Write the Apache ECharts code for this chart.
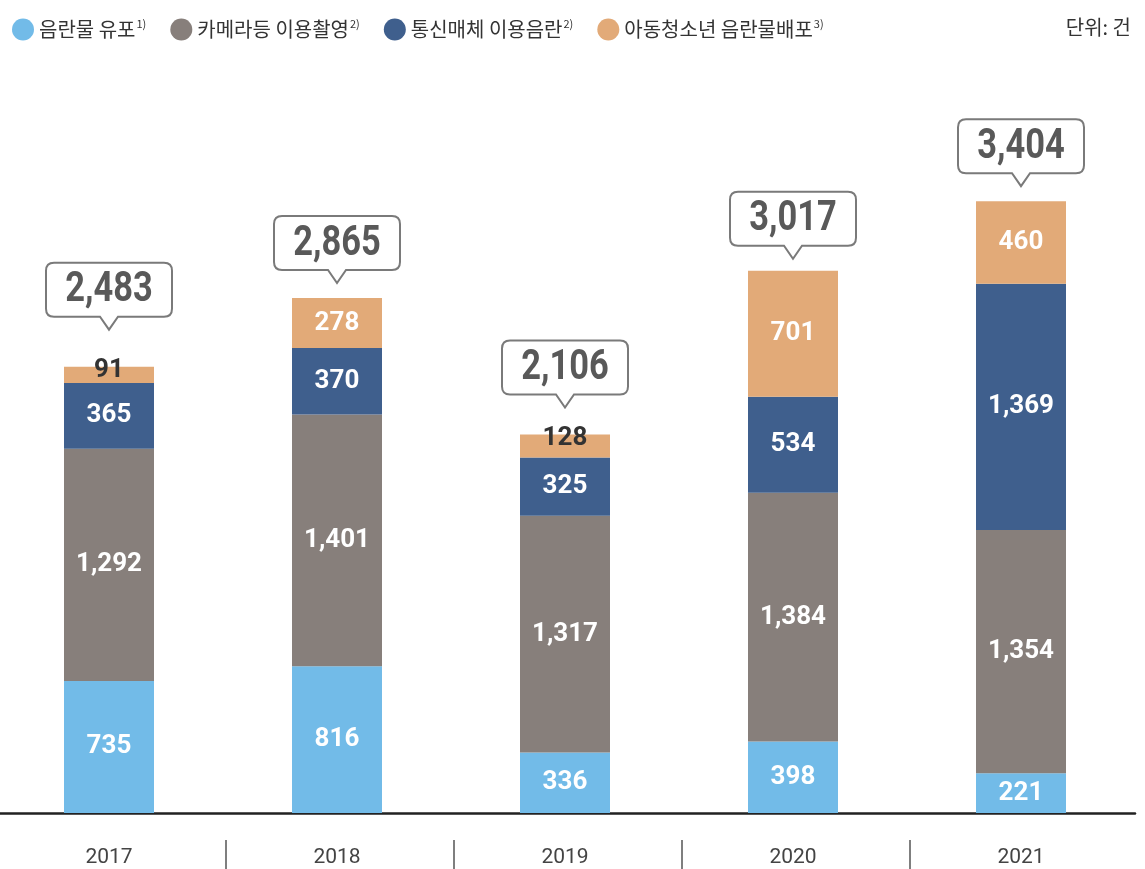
<!DOCTYPE html>
<html>
<head>
<meta charset="utf-8">
<script src="https://cdn.jsdelivr.net/npm/echarts@6/dist/echarts.min.js"></script>
<style>
  html, body { margin: 0; padding: 0; background: #fff; overflow: hidden; }
  #main { width: 1150px; height: 869px; margin-left: -5px; }
</style>
</head>
<body>
<div id="main"></div>
<script>
var years = ['2017', '2018', '2019', '2020', '2021'];
var pornDist = [735, 816, 336, 398, 221];       // 음란물 유포
var cameraShot = [1292, 1401, 1317, 1384, 1354]; // 카메라등 이용촬영
var telecomObs = [365, 370, 325, 534, 1369];     // 통신매체 이용음란
var childDist = [91, 278, 128, 701, 460];        // 아동청소년 음란물배포
var totals = [2483, 2865, 2106, 3017, 3404];

var numFont = "Roboto, sans-serif";
var krFont = "'Noto Sans CJK KR', 'Noto Sans', sans-serif";
// how far each callout tip sits above its bar (px)
var calloutLift = [37, 15, 27, 12, 15];

function fmt(v) { return Number(v).toLocaleString('en-US'); }

var myChart = echarts.init(document.getElementById('main'));

function barSeries(name, values, color) {
    return {
        name: name,
        type: 'bar',
        stack: 'all',
        barWidth: 90,
        itemStyle: { color: color },
        label: {
            show: true,
            position: 'inside',
            color: '#fff',
            fontFamily: numFont,
            fontWeight: 'bold',
            fontSize: 26,
            formatter: function (p) { return fmt(p.value); }
        },
        data: values.map(function (v) {
            // thin segments get their number on top in dark text
            if (v < 150) {
                return { value: v, label: { position: 'insideTop', offset: [0, -14], color: '#333' } };
            }
            return v;
        })
    };
}

var option = {
    animation: false,
    legend: {
        left: 12,
        top: 13,
        itemWidth: 22,
        itemHeight: 22,
        itemGap: 24,
        icon: 'circle',
        textStyle: {
            fontFamily: krFont,
            fontSize: 20,
            color: '#333',
            rich: {
                t: { fontFamily: krFont, fontSize: 20, color: '#333' },
                s: { fontFamily: krFont, fontSize: 11, color: '#333', verticalAlign: 'top', padding: [0, 0, 12, 1] }
            }
        },
        formatter: function (name) {
            var sup = { '음란물 유포': '1)', '카메라등 이용촬영': '2)', '통신매체 이용음란': '2)', '아동청소년 음란물배포': '3)' };
            return '{t|' + name + '}{s|' + sup[name] + '}';
        },
        data: ['음란물 유포', '카메라등 이용촬영', '통신매체 이용음란', '아동청소년 음란물배포']
    },
    title: {
        text: '단위: 건',
        right: 9,
        top: 12,
        textStyle: { fontFamily: krFont, fontSize: 20, fontWeight: 'normal', color: '#333' }
    },
    grid: { left: 0, right: 10, top: 94, bottom: 56 },
    xAxis: {
        type: 'category',
        data: years,
        axisLine: { lineStyle: { color: '#222', width: 2.5 } },
        axisTick: { show: false },
        axisLabel: { margin: 34, fontFamily: 'Roboto, sans-serif', fontSize: 21, color: '#444' }
    },
    yAxis: {
        type: 'value',
        min: 0,
        max: 4000,
        show: false,
        splitLine: { show: false }
    },
    series: [
        barSeries('음란물 유포', pornDist, '#72bbe8'),
        barSeries('카메라등 이용촬영', cameraShot, '#877f7b'),
        barSeries('통신매체 이용음란', telecomObs, '#3f5f8d'),
        barSeries('아동청소년 음란물배포', childDist, '#e2aa78'),
        {
            type: 'custom',
            silent: true,
            z: 5,
            data: totals.map(function (t, i) { return [i, t]; }),
            renderItem: function (params, api) {
                var i = api.value(0);
                var top = api.coord([i, api.value(1)]);
                var base = api.coord([i, 0]);
                var band = api.size([1, 0])[0];
                var cx = top[0];
                var tipY = top[1] - calloutLift[params.dataIndex];
                var w = 126, h = 54, th = 13, tw = 9, r = 8;
                var x0 = cx - w / 2, x1 = cx + w / 2;
                var y1 = tipY - th, y0 = y1 - h;
                var d = 'M' + (x0 + r) + ' ' + y0 +
                    ' L' + (x1 - r) + ' ' + y0 +
                    ' Q' + x1 + ' ' + y0 + ' ' + x1 + ' ' + (y0 + r) +
                    ' L' + x1 + ' ' + (y1 - r) +
                    ' Q' + x1 + ' ' + y1 + ' ' + (x1 - r) + ' ' + y1 +
                    ' L' + (cx + tw) + ' ' + y1 +
                    ' L' + cx + ' ' + tipY +
                    ' L' + (cx - tw) + ' ' + y1 +
                    ' L' + (x0 + r) + ' ' + y1 +
                    ' Q' + x0 + ' ' + y1 + ' ' + x0 + ' ' + (y1 - r) +
                    ' L' + x0 + ' ' + (y0 + r) +
                    ' Q' + x0 + ' ' + y0 + ' ' + (x0 + r) + ' ' + y0 + ' Z';
                var children = [
                    {
                        type: 'path',
                        shape: { pathData: d },
                        style: { fill: '#fff', stroke: '#7a7a7a', lineWidth: 2 }
                    },
                    {
                        type: 'text',
                        x: cx,
                        y: y0 + h / 2 + 1,
                        scaleX: 0.82,
                        style: {
                            text: fmt(api.value(1)),
                            x: 0,
                            y: 0,
                            align: 'center',
                            verticalAlign: 'middle',
                            font: 'bold 42px ' + numFont,
                            fill: '#595959'
                        }
                    }
                ];
                // separator between year labels
                if (params.dataIndex > 0) {
                    var sx = cx - band / 2 + 3;
                    children.push({
                        type: 'line',
                        shape: { x1: sx, y1: base[1] + 27, x2: sx, y2: base[1] + 58 },
                        style: { stroke: '#555', lineWidth: 1.5 }
                    });
                }
                return { type: 'group', children: children };
            }
        }
    ]
};

myChart.setOption(option);

window.onresize = function () {
    myChart.resize();
};
</script>
</body>
</html>
